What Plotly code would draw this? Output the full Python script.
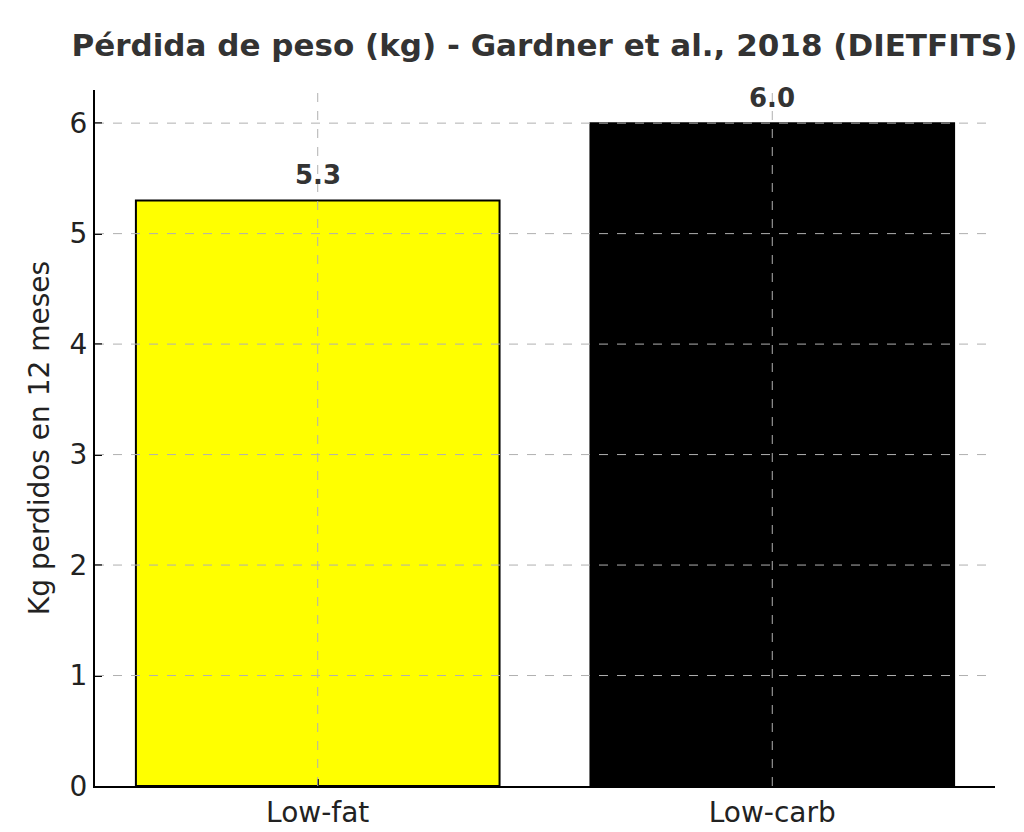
import plotly.graph_objects as go

# Data
diets = ["Low-fat", "Low-carb"]
kg_lost = [5.3, 6.0]
bar_colors = ["yellow", "black"]
y_ticks = [0, 1, 2, 3, 4, 5, 6]

FONT = "DejaVu Sans"
TEXT_COLOR = "#333333"
GRID_COLOR = "#b0b0b0"

fig = go.Figure()
fig.add_trace(go.Bar(
    x=diets,
    y=kg_lost,
    width=0.8,
    marker=dict(color=bar_colors, line=dict(color="black", width=2)),
    showlegend=False,
    hoverinfo="skip",
))

# value labels above each bar
for diet, val in zip(diets, kg_lost):
    fig.add_annotation(x=diet, y=val, text="<b>%.1f</b>" % val,
                       showarrow=False, yanchor="bottom", yshift=8,
                       font=dict(family=FONT, size=26, color=TEXT_COLOR))

# matplotlib draws the grid on top of the bars, so use shapes
for t in y_ticks[1:]:
    fig.add_shape(type="line", xref="paper", yref="y", x0=0, x1=1,
                  y0=t, y1=t, layer="above",
                  line=dict(color=GRID_COLOR, width=1, dash="dash"))
for diet in diets:
    fig.add_shape(type="line", xref="x", yref="paper", x0=diet, x1=diet,
                  y0=0, y1=1, layer="above",
                  line=dict(color=GRID_COLOR, width=1, dash="dash"))

# page body has an 8px margin, so the figure is a bit smaller than the window
fig.update_layout(
    width=1016, height=824,
    margin=dict(l=87, r=29, t=82, b=46, autoexpand=False),
    paper_bgcolor="white",
    plot_bgcolor="white",
    font=dict(family=FONT, color="#222222"),
    title=dict(text="<b>Pérdida de peso (kg) - Gardner et al., 2018 (DIETFITS)</b>",
               x=0.528, xanchor="center", y=0.955, yanchor="middle",
               font=dict(family=FONT, size=31, color=TEXT_COLOR)),
    bargap=0.2,
)
fig.update_xaxes(
    range=[-0.49, 1.49],
    automargin=False,
    showgrid=False,
    showline=True, linecolor="black", linewidth=2,
    ticks="inside", ticklen=7, tickwidth=1.5, tickcolor="black",
    tickfont=dict(family=FONT, size=28, color="#222222"),
)
fig.update_yaxes(
    range=[0, 6.3],
    automargin=False,
    tickvals=y_ticks,
    showgrid=False, zeroline=False,
    showline=True, linecolor="black", linewidth=2,
    ticks="inside", ticklen=7, tickwidth=1.5, tickcolor="black",
    tickfont=dict(family=FONT, size=28, color="#222222"),
    title=dict(text="Kg perdidos en 12 meses",
               font=dict(family=FONT, size=28, color="#222222"), standoff=12),
)

fig.write_html("out.html")
